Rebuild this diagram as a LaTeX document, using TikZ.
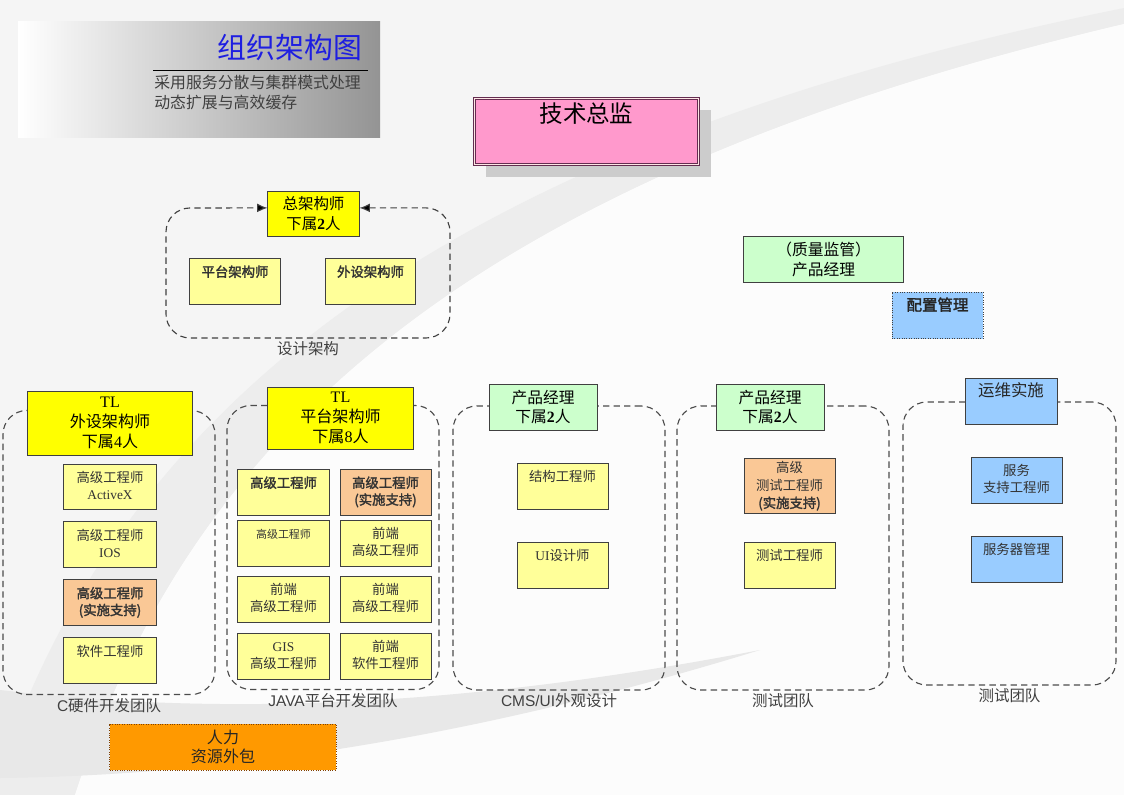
\documentclass[tikz,border=0pt]{standalone}
\usepackage{fontspec}
\setmainfont{Liberation Serif}
\setsansfont{Liberation Sans}
\newfontfamily\cjk[AutoFakeBold=2]{Noto Sans CJK SC}
\usepackage{tikz}
\usetikzlibrary{arrows.meta,positioning,shadows}
\newcommand\lat[1]{{\rmfamily #1}}
\newcommand\lbf[1]{{\rmfamily\bfseries #1}}
\tikzset{
  base/.style={draw=black!75, line width=0.7pt, align=center, font=\cjk},
  sub/.style={base, fill=paleyel, text=black!80, minimum width=2.3cm,
    font=\cjk\fontsize{9.5}{12}\selectfont, inner ysep=4pt,
    text height=9pt, text depth=15.7pt},
  two/.style={text height=21pt, text depth=3.7pt},
  lead/.style={base, fill=tlyel, font=\cjk\fontsize{11.4}{14.2}\selectfont, inner sep=1pt},
  pm/.style={base, fill=pmgreen, minimum width=2.7cm, minimum height=1.15cm,
    font=\cjk\fontsize{11.2}{14}\selectfont, inner sep=1pt},
  team/.style={draw=black!70, dash pattern=on 4.5pt off 3pt, line width=0.8pt,
    rounded corners=0.6cm, minimum width=5.3cm, minimum height=7.1cm},
  teamlbl/.style={font=\cjk\fontsize{11}{12}\selectfont, text=black!75, inner sep=1pt},
  link/.style={draw=black!75, dash pattern=on 4.5pt off 3pt, line width=0.8pt,
    rounded corners=0.6cm},
}

\begin{document}
\begin{tikzpicture}[x=0.025cm, y=-0.025cm]
    % Define colors
    \definecolor{paleyel}{RGB}{255,255,153}
    \definecolor{tlyel}{RGB}{255,255,0}
    \definecolor{peach}{RGB}{250,200,150}
    \definecolor{pmgreen}{RGB}{204,255,204}
    \definecolor{skyblue}{RGB}{153,204,255}
    \definecolor{hrorange}{RGB}{255,153,0}
    \definecolor{pinkbox}{RGB}{255,153,204}
    \definecolor{dirframe}{RGB}{100,45,80}
    \definecolor{titleblue}{RGB}{30,30,225}

    % Background swoosh
    \useasboundingbox (0,0) rectangle (1124,795);
    \fill[black!4] (0,0) rectangle (1124,795);
    \fill[black!7] (0,770) .. controls (120,420) and (420,150) .. (1124,8)
      -- (1124,24) .. controls (460,180) and (190,440) .. (75,795) -- (0,795) -- cycle;
    \fill[black!1] (75,795) .. controls (190,440) and (460,180) .. (1124,24)
      -- (1124,795) -- cycle;
    \fill[black!9] (0,690) .. controls (250,720) and (500,700) .. (760,650)
      .. controls (500,730) and (250,775) .. (0,778) -- cycle;

    % Title panel
    \shade[left color=white, right color=black!42] (18,22) rectangle (380,137);
    \node[font=\cjk\fontsize{20.5}{24}\selectfont, text=titleblue, anchor=east] (title) at (367,48) {组织架构图};
    \draw[line width=0.6pt] (153,70) -- (368,70);
    \node[anchor=north west, align=left, inner sep=0pt, text=black!75,
      font=\cjk\fontsize{11.3}{14.2}\selectfont] (motto) at (154,75)
      {采用服务分散与集群模式处理\\动态扩展与高效缓存};

    % Director
    \node[base, fill=pinkbox, draw=dirframe, double=pink!40, double distance=1pt,
      general shadow={fill=black!20, shadow xshift=0.3cm, shadow yshift=-0.3cm},
      minimum width=5.6cm, font=\cjk\fontsize{16.7}{20}\selectfont,
      inner ysep=3pt, text height=14pt, text depth=27pt] (cto) at (586.5,131.5) {技术总监};

    % Chief architect and design group
    \node[lead, minimum width=2.275cm, minimum height=1.125cm,
      font=\cjk\fontsize{11}{14}\selectfont] (chief) at (313.5,213.5) {总架构师\\下属\lbf{2}人};
    \node[sub, minimum width=2.25cm] (ptarch) at (235,281.5) {\bfseries 平台架构师};
    \node[sub, minimum width=2.25cm] (wsarch) at (370.5,281.5) {\bfseries 外设架构师};
    \draw[link, {Latex[length=2.6mm, width=2.2mm, fill=black]}-{Latex[length=2.6mm, width=2.2mm, fill=black]}]
      ([yshift=1.4mm]chief.east) -| (450,338) -| (166,208) -- ([yshift=1.4mm]chief.west);
    \node[teamlbl, anchor=north] (designlbl) at (308,340) {设计架构};

    % C hardware team
    \node[team] (cteam) at (109,552.5) {};
    \node[teamlbl, below=1pt of cteam] (ctlbl) {{\sffamily C}硬件开发团队};
    \node[lead, minimum width=4.1cm, minimum height=1.6cm] (ctl) at (110,423)
      {\lat{TL}\\外设架构师\\下属\lat{4}人};
    \node[sub, two, below=0.2cm of ctl] (c1) {高级工程师\\\lat{ActiveX}};
    \node[sub, two, below=0.275cm of c1] (c2) {高级工程师\\\lat{IOS}};
    \node[sub, two, fill=peach, below=0.275cm of c2] (c3) {\bfseries 高级工程师\\\bfseries (实施支持)};
    \node[sub, below=0.275cm of c3] (c4) {软件工程师};

    % JAVA platform team
    \node[team] (jteam) at (333,547.5) {};
    \node[teamlbl, below=1pt of jteam] (jtlbl) {{\sffamily JAVA}平台开发团队};
    \node[lead, minimum width=3.625cm, minimum height=1.55cm] (jtl) at (340.5,418)
      {\lat{TL}\\平台架构师\\下属\lat{8}人};
    \node[sub, minimum width=2.275cm] (j11) at (283.5,492.5) {\bfseries 高级工程师};
    \node[sub, two, minimum width=2.275cm, fill=peach] (j12) at (385.5,492.5) {\bfseries 高级工程师\\\bfseries (实施支持)};
    \node[sub, minimum width=2.275cm, font=\cjk\fontsize{7.8}{10}\selectfont] (j21) at (283.5,543.5) {高级工程师};
    \node[sub, two, minimum width=2.275cm] (j22) at (385.5,543.5) {前端\\高级工程师};
    \node[sub, two, minimum width=2.275cm] (j31) at (283.5,599.5) {前端\\高级工程师};
    \node[sub, two, minimum width=2.275cm] (j32) at (385.5,599.5) {前端\\高级工程师};
    \node[sub, two, minimum width=2.275cm] (j41) at (283.5,656.5) {\lat{GIS}\\高级工程师};
    \node[sub, two, minimum width=2.275cm] (j42) at (385.5,656.5) {前端\\软件工程师};

    % CMS/UI team
    \node[team] (uteam) at (559,548) {};
    \node[teamlbl, below=1pt of uteam] (utlbl) {{\sffamily CMS/UI}外观设计};
    \node[pm] (upm) at (543,407) {产品经理\\下属\lbf{2}人};
    \node[sub, minimum width=2.275cm] (u1) at (562.5,486) {结构工程师};
    \node[sub, minimum width=2.275cm] (u2) at (562.5,565.5) {\lat{UI}设计师};

    % Test team
    \node[team] (tteam) at (783,548) {};
    \node[teamlbl, below=1pt of tteam] (ttlbl) {测试团队};
    \node[pm] (tpm) at (770,407) {产品经理\\下属\lbf{2}人};
    \node[sub, minimum width=2.275cm, fill=peach, inner ysep=1.5pt,
      text height=34pt, text depth=2.8pt,
      font=\cjk\fontsize{9.5}{12.5}\selectfont] (t1) at (789.5,486)
      {高级\\测试工程师\\\bfseries (实施支持)};
    \node[sub, minimum width=2.275cm] (t2) at (789.5,565.5) {测试工程师};

    % Operations team
    \node[team, minimum width=5.325cm, minimum height=7.075cm] (oteam) at (1009.5,543.5) {};
    \node[teamlbl, below=1pt of oteam] (otlbl) {测试团队};
    \node[sub, fill=skyblue, text=black!85, inner ysep=2.5pt,
      text height=10.5pt, text depth=17.2pt,
      font=\cjk\fontsize{11.7}{14}\selectfont] (ops) at (1011,401) {运维实施};
    \node[sub, two, fill=skyblue, minimum width=2.275cm] (o1) at (1016.5,480.5) {服务\\支持工程师};
    \node[sub, fill=skyblue, minimum width=2.275cm] (o2) at (1016.5,559.5) {服务器管理};

    % Quality and configuration
    \node[pm, minimum width=3.975cm] (qa) at (823.5,259.5) {（质量监管）\\产品经理};
    \node[sub, fill=skyblue, densely dotted, minimum width=2.275cm, text=black!85,
      inner ysep=3pt, text height=10pt, text depth=17pt,
      font=\cjk\fontsize{11}{14}\selectfont] (cfg) at (937.5,315.5) {\bfseries 配置管理};

    % HR outsourcing
    \node[base, fill=hrorange, draw=orange!50!black, densely dotted, minimum width=5.65cm,
      minimum height=1.15cm, inner sep=1pt, text=black!85,
      font=\cjk\fontsize{11.4}{13.5}\selectfont] (hr) at (223,747) {人力\\资源外包};
\end{tikzpicture}
\end{document}
